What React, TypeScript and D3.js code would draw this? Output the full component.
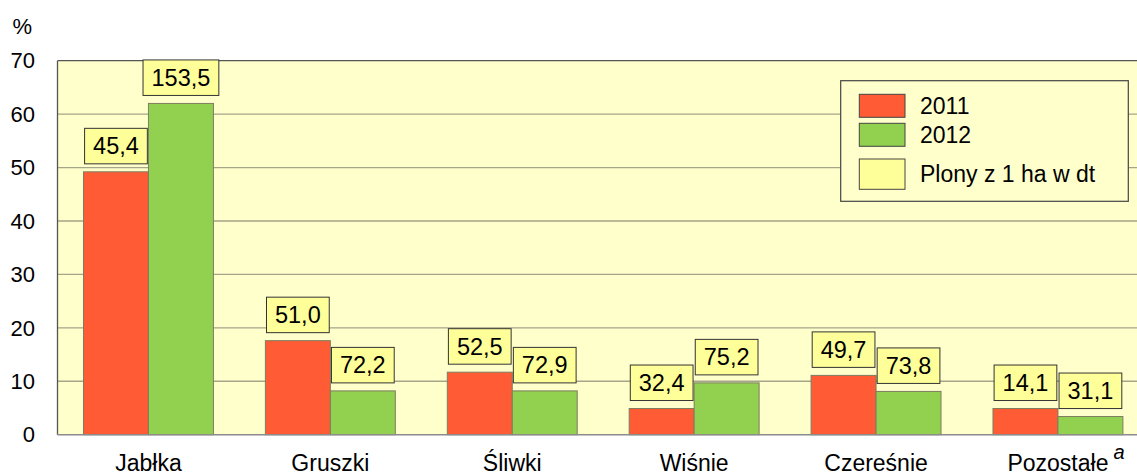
import React, { useEffect, useRef } from "react";
import * as d3 from "d3";

const categories = ["Jabłka", "Gruszki", "Śliwki", "Wiśnie", "Czereśnie", "Pozostałe"];
const series = ["2011", "2012"];
const values2011 = [49.2, 17.6, 11.7, 4.9, 11.1, 4.9];
const values2012 = [62.0, 8.2, 8.2, 9.7, 8.1, 3.4];
const labels2011 = ["45,4", "51,0", "52,5", "32,4", "49,7", "14,1"];
const labels2012 = ["153,5", "72,2", "72,9", "75,2", "73,8", "31,1"];
const yTicks = [0, 10, 20, 30, 40, 50, 60, 70];
const legendItems = ["2011", "2012", "Plony z 1 ha w dt"];

const W = 1137;
const H = 472;
const COLORS: Record<string, string> = { "2011": "#FF5B35", "2012": "#92D050" };
const LABEL_FILL = "#FFFF99";
const PLOT_BG = "#FFFFCC";
const FONT = "Liberation Sans, Arial, sans-serif";

export default function App() {
  const ref = useRef<SVGSVGElement | null>(null);

  useEffect(() => {
    document.body.style.margin = "0";
    const svg = d3.select(ref.current!);
    svg.selectAll("*").remove();

    const left = 57.5;
    const top = 60.7;
    const bottom = 434.7;
    const step = 181.9;
    const right = left + step * categories.length;

    const x0 = d3.scaleBand<string>().domain(categories).range([left, right]).paddingInner(0).paddingOuter(0);
    const x1 = d3.scaleBand<string>().domain(series).range([0, x0.bandwidth()]).paddingInner(0).paddingOuter(0.4);
    const y = d3.scaleLinear().domain([0, 70]).range([bottom, top]);

    svg.append("rect").attr("x", left).attr("y", top).attr("width", right - left).attr("height", bottom - top)
      .attr("fill", PLOT_BG).attr("stroke", "none");

    svg.append("g").selectAll("line").data(yTicks.filter(t => t > 0 && t < 70)).join("line")
      .attr("x1", left).attr("x2", right)
      .attr("y1", d => y(d)).attr("y2", d => y(d))
      .attr("stroke", "#A5A58A").attr("stroke-width", 1.3);

    svg.append("line").attr("x1", left).attr("x2", right).attr("y1", top).attr("y2", top)
      .attr("stroke", "#555555").attr("stroke-width", 1.3);
    svg.append("line").attr("x1", left).attr("x2", left).attr("y1", top).attr("y2", bottom)
      .attr("stroke", "#555555").attr("stroke-width", 1.3);

    const data = categories.map((c, i) => ({
      c,
      items: [
        { s: "2011", v: values2011[i], l: labels2011[i] },
        { s: "2012", v: values2012[i], l: labels2012[i] },
      ],
    }));

    const groups = svg.append("g").selectAll("g").data(data).join("g")
      .attr("transform", d => `translate(${x0(d.c)},0)`);

    groups.selectAll("rect").data(d => d.items).join("rect")
      .attr("x", d => x1(d.s)!)
      .attr("width", x1.bandwidth())
      .attr("y", d => y(d.v))
      .attr("height", d => bottom - y(d.v))
      .attr("fill", d => COLORS[d.s])
      .attr("stroke", "#7D7D60").attr("stroke-width", 1);

    svg.append("line").attr("x1", left).attr("x2", right).attr("y1", bottom).attr("y2", bottom)
      .attr("stroke", "#8C8C8C").attr("stroke-width", 1.5);

    groups.each(function (d) {
      const g = d3.select(this);
      d.items.forEach(it => {
        const cx = x1(it.s)! + x1.bandwidth() / 2;
        const boxBottom = y(it.v) - 8;
        const lg = g.append("g");
        const rect = lg.append("rect");
        const t = lg.append("text")
          .attr("x", cx).attr("y", boxBottom - 9.5)
          .attr("text-anchor", "middle")
          .attr("font-family", FONT).attr("font-size", 23.5).attr("fill", "#000")
          .text(it.l);
        const w = (t.node() as SVGTextElement).getComputedTextLength() + 17;
        rect.attr("x", cx - w / 2).attr("y", boxBottom - 35.5).attr("width", w).attr("height", 35.5)
          .attr("fill", LABEL_FILL).attr("stroke", "#333333").attr("stroke-width", 1);
      });
    });

    svg.append("g").selectAll("text").data(yTicks).join("text")
      .attr("x", 35).attr("y", d => y(d)).attr("dy", "0.35em")
      .attr("text-anchor", "end")
      .attr("font-family", FONT).attr("font-size", 22).attr("fill", "#000")
      .text(d => String(d));

    svg.append("text").attr("x", 12.5).attr("y", 34).attr("font-family", FONT).attr("font-size", 22)
      .attr("fill", "#000").text("%");

    categories.forEach(c => {
      const cx = x0(c)! + x0.bandwidth() / 2;
      const t = svg.append("text").attr("x", cx).attr("y", 471).attr("text-anchor", "middle")
        .attr("font-family", FONT).attr("font-size", 23).attr("fill", "#000").text(c);
      if (c === "Pozostałe") {
        const w = (t.node() as SVGTextElement).getComputedTextLength();
        svg.append("text").attr("x", cx + w / 2 + 5).attr("y", 459)
          .attr("font-family", FONT).attr("font-size", 20).attr("font-style", "italic")
          .attr("fill", "#000").text("a");
      }
    });

    const lx = 840.7, ly = 80.7, lw = 287.6, lh = 120.6;
    svg.append("rect").attr("x", lx).attr("y", ly).attr("width", lw).attr("height", lh)
      .attr("fill", PLOT_BG).attr("stroke", "#444444").attr("stroke-width", 1.2);
    const sw = [
      { y: 94.3, h: 23, fill: COLORS["2011"], ty: 114 },
      { y: 123.3, h: 23, fill: COLORS["2012"], ty: 143.3 },
      { y: 159, h: 30.3, fill: LABEL_FILL, ty: 181.7 },
    ];
    legendItems.forEach((name, i) => {
      const s = sw[i];
      svg.append("rect").attr("x", 859.3).attr("y", s.y).attr("width", 45.7).attr("height", s.h)
        .attr("fill", s.fill).attr("stroke", "#444444").attr("stroke-width", 1);
      svg.append("text").attr("x", 920).attr("y", s.ty)
        .attr("font-family", FONT).attr("font-size", 23).attr("fill", "#000").text(name);
    });
  }, []);

  return (
    <svg ref={ref} width={W} height={H} style={{ display: "block", background: "#fff" }} />
  );
}
